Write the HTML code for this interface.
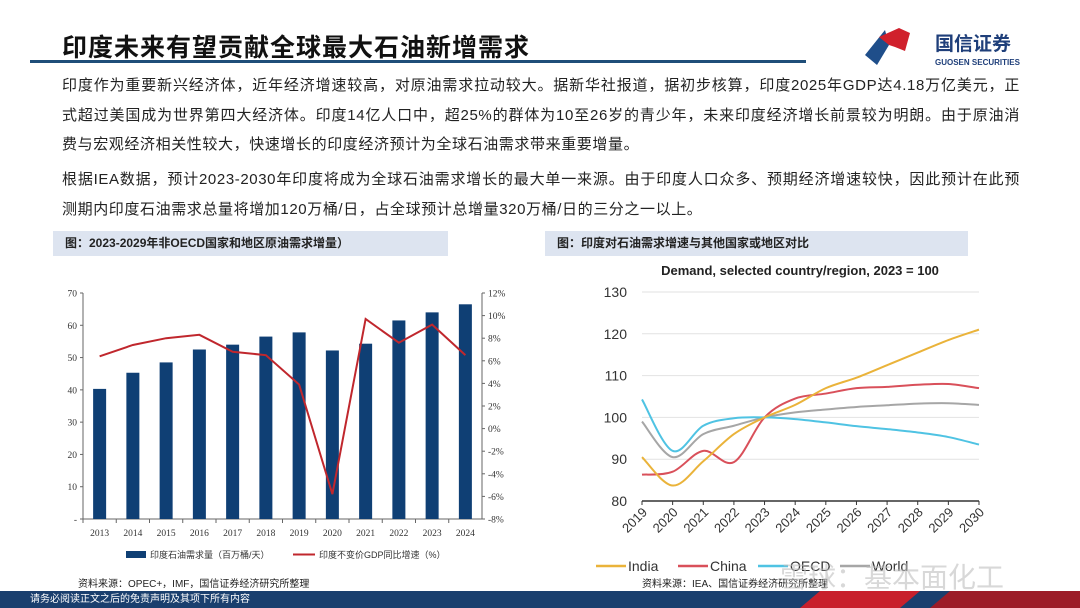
<!DOCTYPE html>
<html><head><meta charset="utf-8">
<style>
body{margin:0;width:1080px;height:608px;position:relative;background:#fff;font-family:"Liberation Sans","Noto Sans CJK SC",sans-serif;overflow:hidden}
.abs{position:absolute}
.para{left:62px;width:958px;font-size:15px;color:#222;line-height:29.5px;text-align:justify;text-align-last:justify;letter-spacing:0.6px}
.cap{background:#dde4f0;font-size:12px;font-weight:bold;color:#222;height:25px;line-height:25px;padding-left:12px;box-sizing:border-box}
</style></head><body>
<div class="abs" style="left:62px;top:28px;font-size:25px;font-weight:bold;color:#111;letter-spacing:1px">印度未来有望贡献全球最大石油新增需求</div>
<div class="abs" style="left:30px;top:60px;width:776px;height:3px;background:#1f4e79"></div>
<svg class="abs" style="left:855px;top:25px" width="190" height="45">
<polygon points="10,30 30,5 34,20 22,40" fill="#1f4e8a"/>
<polygon points="24,12 44,3 55,8 50,26 40,22 34,20" fill="#d0202c"/>
<text x="80" y="25" font-size="19" fill="#1f3f7a" font-family="Noto Sans CJK SC,sans-serif" font-weight="bold">国信证券</text>
<text x="80" y="40" font-size="8" fill="#1f3f7a" font-weight="bold">GUOSEN SECURITIES</text>
</svg>
<div class="abs para" style="top:71px">印度作为重要新兴经济体，近年经济增速较高，对原油需求拉动较大。据新华社报道，据初步核算，印度2025年GDP达4.18万亿美元，正式超过美国成为世界第四大经济体。印度14亿人口中，超25%的群体为10至26岁的青少年，未来印度经济增长前景较为明朗。由于原油消<span style="display:block;text-align:left;text-align-last:left">费与宏观经济相关性较大，快速增长的印度经济预计为全球石油需求带来重要增量。</span></div>
<div class="abs para" style="top:165px">根据IEA数据，预计2023-2030年印度将成为全球石油需求增长的最大单一来源。由于印度人口众多、预期经济增速较快，因此预计在此预<span style="display:block;text-align:left;text-align-last:left">测期内印度石油需求总量将增加120万桶/日，占全球预计总增量320万桶/日的三分之一以上。</span></div>
<div class="abs cap" style="left:53px;top:231px;width:395px">图：2023-2029年非OECD国家和地区原油需求增量）</div>
<div class="abs cap" style="left:545px;top:231px;width:423px">图：印度对石油需求增速与其他国家或地区对比</div>

<svg id="left" class="abs" style="left:0;top:0" width="540" height="600"></svg>
<svg id="right" class="abs" style="left:540px;top:0" width="540" height="600"></svg>

<div class="abs" style="left:78px;top:575px;font-size:10px;color:#222">资料来源：OPEC+，IMF，国信证券经济研究所整理</div>
<div class="abs" style="left:642px;top:575px;font-size:10px;color:#222">资料来源：IEA、国信证券经济研究所整理</div>
<div class="abs" style="left:780px;top:556px;font-size:28px;color:rgba(190,190,190,0.6)">雪球：基本面化工</div>
<div class="abs" style="left:0;top:591px;width:1080px;height:17px;background:#1a3f6e"></div>
<svg class="abs" style="left:780px;top:591px" width="300" height="17"><polygon points="20,17 40,0 140,0 120,17" fill="#c8202c"/><polygon points="150,17 170,0 300,0 300,17" fill="#9c1c28"/></svg>
<div class="abs" style="left:30px;top:592px;font-size:10px;color:#fff;line-height:15px">请务必阅读正文之后的免责声明及其项下所有内容</div>

<script>
const years=["2013","2014","2015","2016","2017","2018","2019","2020","2021","2022","2023","2024"];
const demand=[40.3,45.3,48.5,52.5,54,56.5,57.8,52.2,54.3,61.5,64,66.5];
const gdp=[6.4,7.4,8.0,8.3,6.8,6.5,3.9,-5.8,9.7,7.6,9.2,6.5];
const leftTicks=[0,10,20,30,40,50,60,70];
const rightTicks=[-8,-6,-4,-2,0,2,4,6,8,10,12];

const fYears=["2019","2020","2021","2022","2023","2024","2025","2026","2027","2028","2029","2030"];
const india=[90.5,83.7,89.5,96,100,103,107,109.5,112.5,115.5,118.5,121];
const china=[86.3,87,92,89.3,100,104.5,105.7,107,107.3,107.8,108,107];
const oecd=[104.3,92,98,99.8,100,99.6,98.8,97.9,97.2,96.4,95.3,93.5];
const world=[99,90.5,96,98,100,101.2,101.9,102.5,102.9,103.3,103.4,103];
const fTicks=[80,90,100,110,120,130];

const NS="http://www.w3.org/2000/svg";
function mk(p,t,a,txt){const e=document.createElementNS(NS,t);for(const k in a)e.setAttribute(k,a[k]);if(txt!==undefined)e.textContent=txt;p.appendChild(e);return e;}

// Left chart
const L=document.getElementById('left');
const x0=83,x1=482,yTop=293,yBot=519;
const step=(x1-x0)/years.length;
const xc=i=>x0+step*(i+0.5);
const yL=v=>yBot-(v/70)*(yBot-yTop);
const yR=v=>yBot-((v+8)/20)*(yBot-yTop);
mk(L,'line',{x1:x0,y1:yTop,x2:x0,y2:yBot,stroke:'#666'});
mk(L,'line',{x1:x1,y1:yTop,x2:x1,y2:yBot,stroke:'#666'});
mk(L,'line',{x1:x0,y1:yBot,x2:x1,y2:yBot,stroke:'#666'});
leftTicks.forEach(v=>{
 mk(L,'line',{x1:x0-3,y1:yL(v),x2:x0,y2:yL(v),stroke:'#666'});
 const t=mk(L,'text',{x:x0-6,y:yL(v)+3.5,'text-anchor':'end','font-size':9.5,fill:'#333','font-family':'Liberation Serif,serif'},v===0?'-':v);
 
 
});
rightTicks.forEach(v=>{
 mk(L,'line',{x1:x1,y1:yR(v),x2:x1+3,y2:yR(v),stroke:'#666'});
 const t=mk(L,'text',{x:x1+6,y:yR(v)+3.5,'font-size':9.5,fill:'#333','font-family':'Liberation Serif,serif'},v+'%');
 
 
});
years.forEach((y,i)=>{
 mk(L,'line',{x1:x0+step*i,y1:yBot,x2:x0+step*i,y2:yBot+4,stroke:'#666'});
 const b=mk(L,'rect',{x:xc(i)-6.5,y:yL(demand[i]),width:13,height:yBot-yL(demand[i]),fill:'#0f3f74'});
 
 
 const t=mk(L,'text',{x:xc(i),y:yBot+17,'text-anchor':'middle','font-size':9.5,fill:'#333','font-family':'Liberation Serif,serif'},y);
 
 
});
const gl=mk(L,'polyline',{points:gdp.map((v,i)=>xc(i)+','+yR(v)).join(' '),fill:'none',stroke:'#c0272d','stroke-width':2});


mk(L,'rect',{x:126,y:551,width:20,height:7,fill:'#0f3f74'});
mk(L,'text',{x:150,y:558,'font-size':9,fill:'#333'},'印度石油需求量（百万桶/天）');
mk(L,'line',{x1:293,y1:554.5,x2:315,y2:554.5,stroke:'#c0272d','stroke-width':2});
mk(L,'text',{x:319,y:558,'font-size':9,fill:'#333'},'印度不变价GDP同比增速（%）');

// Right chart (offset 540)
const R=document.getElementById('right');
const rx0=642-540,rx1=979-540,ry0=292,ry1=501;
const fx=i=>rx0+(rx1-rx0)*i/(fYears.length-1);
const fy=v=>ry1-(v-80)/50*(ry1-ry0);
mk(R,'text',{x:260,y:275,'text-anchor':'middle','font-size':13,'font-weight':'bold',fill:'#222'},'Demand, selected country/region, 2023 = 100');
fTicks.forEach(v=>{
 if(v>80)mk(R,'line',{x1:rx0,y1:fy(v),x2:rx1,y2:fy(v),stroke:'#e2e2e2','stroke-width':1});
 const t=mk(R,'text',{x:87,y:fy(v)+5,'text-anchor':'end','font-size':14,fill:'#333'},v);
 
 
});
mk(R,'line',{x1:rx0,y1:ry1,x2:rx1,y2:ry1,stroke:'#333','stroke-width':1.5});
fYears.forEach((y,i)=>{
 mk(R,'line',{x1:fx(i),y1:ry1,x2:fx(i),y2:ry1+4,stroke:'#333'});
 const t=mk(R,'text',{x:fx(i)+6,y:ry1+12,'text-anchor':'end','font-size':13,fill:'#333',transform:`rotate(-45 ${fx(i)+6} ${ry1+12})`},y);
 
 
});
function smooth(arr){
 const p=arr.map((v,i)=>[fx(i),fy(v)]);
 let d='M'+p[0][0]+','+p[0][1];
 for(let i=0;i<p.length-1;i++){
  const a=p[Math.max(i-1,0)],b=p[i],c=p[i+1],e=p[Math.min(i+2,p.length-1)];
  const c1=[b[0]+(c[0]-a[0])/6,b[1]+(c[1]-a[1])/6],c2=[c[0]-(e[0]-b[0])/6,c[1]-(e[1]-b[1])/6];
  d+=` C${c1[0]},${c1[1]} ${c2[0]},${c2[1]} ${c[0]},${c[1]}`;
 }
 return d;
}
const series=[[world,'#a6a6a6','world-line'],[oecd,'#4fc3e3','oecd-line'],[china,'#d9505a','china-line'],[india,'#eab33a','india-line']];
series.forEach(s=>{
 const p=mk(R,'path',{d:smooth(s[0]),fill:'none',stroke:s[1],'stroke-width':2});
 
 
});
const leg=[['India','#eab33a',56],['China','#d9505a',138],['OECD','#4fc3e3',218],['World','#a6a6a6',300]];
leg.forEach(l=>{
 mk(R,'line',{x1:l[2],y1:566,x2:l[2]+30,y2:566,stroke:l[1],'stroke-width':2.5});
 const t=mk(R,'text',{x:l[2]+32,y:571,'font-size':14,fill:'#333'},l[0]);
 
 
});
</script>
</body></html>
